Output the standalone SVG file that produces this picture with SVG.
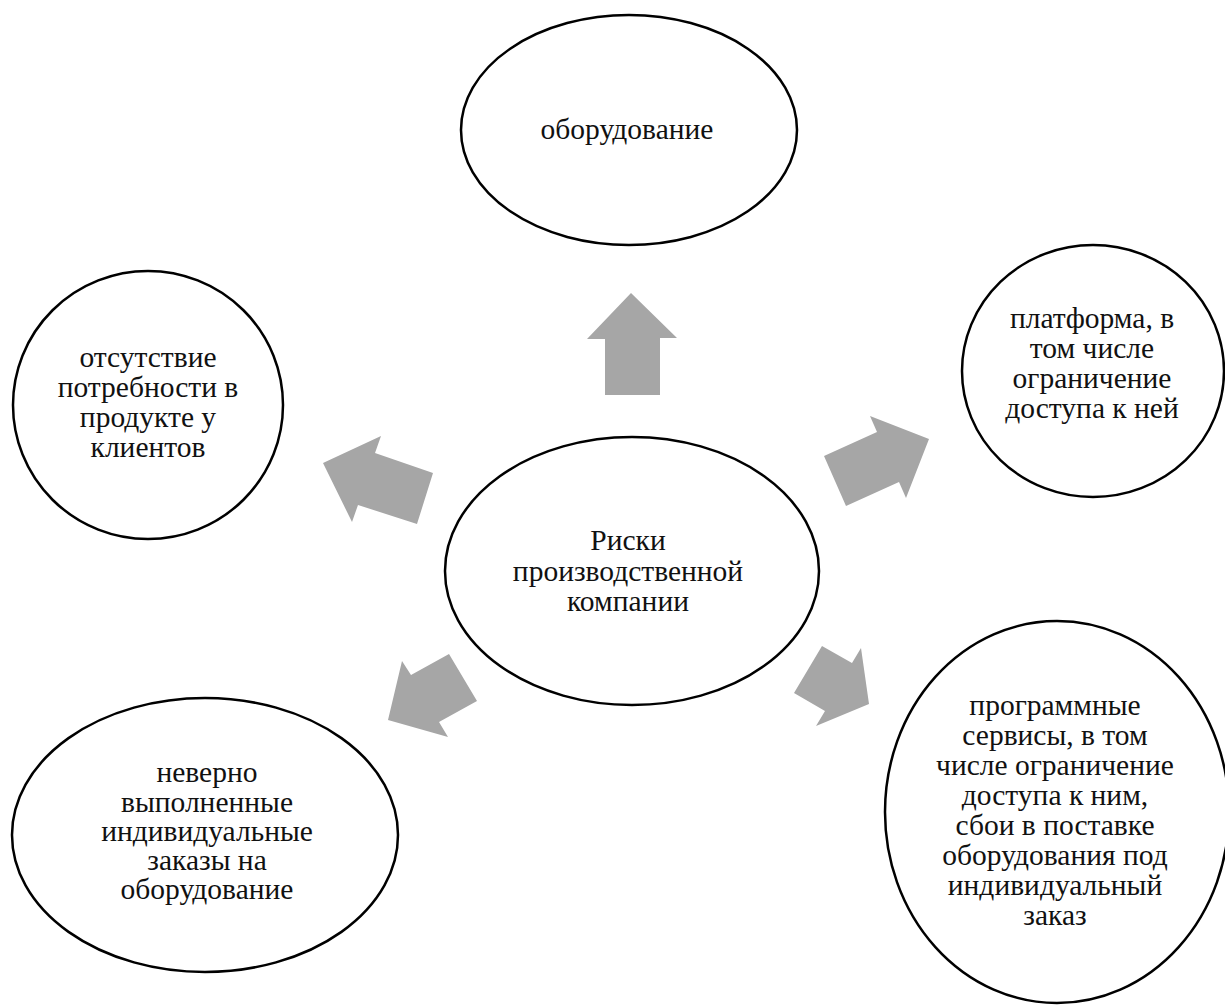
<svg xmlns="http://www.w3.org/2000/svg" width="1225" height="1005" viewBox="0 0 1225 1005">
  <style>
    .node ellipse { fill: #ffffff; stroke: #000000; stroke-width: 2.5; }
    .node text { font-family: "Liberation Serif", "Times New Roman", serif; font-size: 29.5px; fill: #111111; text-anchor: middle; }
    .arrows polygon { fill: #a6a6a6; stroke: none; }
  </style>
  <rect width="1225" height="1005" fill="#ffffff"/>

  <!-- block arrows radiating from the central node -->
  <g id="connectors" class="arrows">
    <polygon points="605,395 605,339 587,339 631,293 677,338 660,338 660,395"/>
    <polygon points="824,456 877,432 870,416 929,439 906,498 899,482 846,506"/>
    <polygon points="433,473 375,453 381,436 323,463 352,522 358,505 417,524"/>
    <polygon points="449,654 411,675 402,661 388,720 448,737 439,722 477,701"/>
    <polygon points="822,646 852,663 861,648 869,704 816,726 825,711 794,693"/>
  </g>

  <g id="node-center" class="node">
    <ellipse cx="632" cy="571" rx="187" ry="134"/>
    <text x="628" y="550">Риски</text>
    <text x="628" y="581">производственной</text>
    <text x="628" y="611">компании</text>
  </g>

  <g id="node-equipment" class="node">
    <ellipse cx="629" cy="130" rx="168" ry="115"/>
    <text x="627" y="139">оборудование</text>
  </g>

  <g id="node-platform" class="node">
    <ellipse cx="1093" cy="371" rx="131" ry="126"/>
    <text x="1092" y="328">платформа, в</text>
    <text x="1092" y="358">том числе</text>
    <text x="1092" y="388">ограничение</text>
    <text x="1092" y="418">доступа к ней</text>
  </g>

  <g id="node-demand" class="node">
    <ellipse cx="148" cy="405" rx="135" ry="134"/>
    <text x="148" y="367">отсутствие</text>
    <text x="148" y="397">потребности в</text>
    <text x="148" y="427">продукте у</text>
    <text x="148" y="457">клиентов</text>
  </g>

  <g id="node-orders" class="node">
    <ellipse cx="205" cy="835" rx="193" ry="137"/>
    <text x="207" y="782">неверно</text>
    <text x="207" y="812">выполненные</text>
    <text x="207" y="841">индивидуальные</text>
    <text x="207" y="870">заказы на</text>
    <text x="207" y="899">оборудование</text>
  </g>

  <g id="node-services" class="node">
    <ellipse cx="1057" cy="812" rx="172" ry="191"/>
    <text x="1055" y="715">программные</text>
    <text x="1055" y="745">сервисы, в том</text>
    <text x="1055" y="775">числе ограничение</text>
    <text x="1055" y="805">доступа к ним,</text>
    <text x="1055" y="835">сбои в поставке</text>
    <text x="1055" y="865">оборудования под</text>
    <text x="1055" y="895">индивидуальный</text>
    <text x="1055" y="925">заказ</text>
  </g>
</svg>
